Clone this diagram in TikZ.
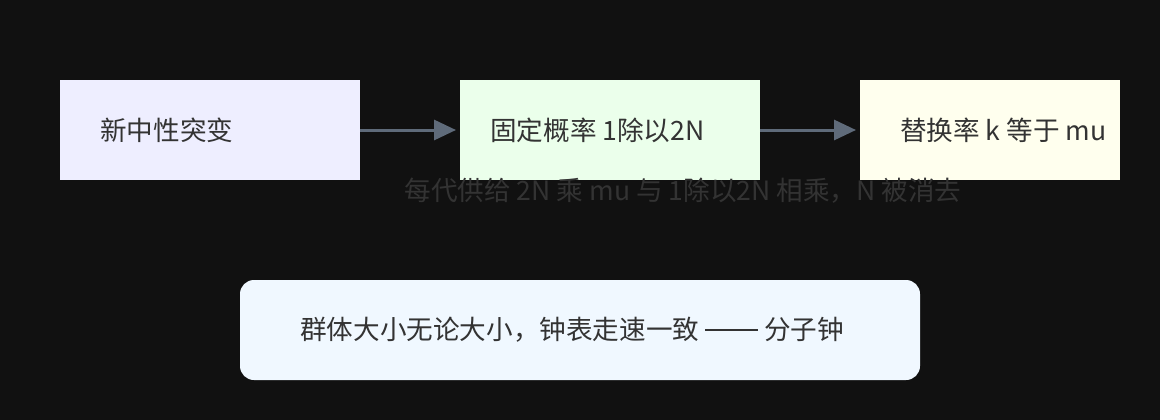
\documentclass[tikz,border=0pt]{standalone}
\usepackage{fontspec}
\setmainfont{Noto Sans CJK SC}
\usetikzlibrary{arrows.meta}
\definecolor{bg}{HTML}{111111}
\definecolor{txt}{HTML}{333333}
\definecolor{arr}{HTML}{5F6B7A}
\definecolor{fa}{HTML}{EEEEFF}
\definecolor{fb}{HTML}{EBFFEB}
\definecolor{fc}{HTML}{FFFFEE}
\definecolor{fd}{HTML}{F0F8FF}
\tikzset{
  box/.style={inner sep=0, outer sep=0, minimum height=100pt, anchor=north west},
  lbl/.style={text=txt, font=\fontsize{26.6}{30}\selectfont, anchor=west, inner sep=0},
  conn/.style={draw=arr, line width=3pt, -{Triangle[length=22pt,width=20pt]}, shorten >=4pt}
}
\begin{document}
\begin{tikzpicture}[x=1pt,y=-1pt]
\fill[bg] (0,0) rectangle (1160,420);
\useasboundingbox (0,0) rectangle (1160,420);
\node[box, fill=fa, minimum width=300pt] (a) at (60,80) {};
\node[box, fill=fb, minimum width=300pt] (b) at (460,80) {};
\node[box, fill=fc, minimum width=260pt] (c) at (860,80) {};
\node[box, fill=fd, minimum width=680pt, rounded corners=14pt] (d) at (240,280) {};
\node[lbl] (ta) at (100,130) {新中性突变};
\node[lbl] (tb) at (490,130) {固定概率 1除以2N};
\node[lbl] (tc) at (900,130) {替换率 k 等于 mu};
\node[lbl] (td) at (300,330) {群体大小无论大小，钟表走速一致 \rule[0.33em]{2em}{0.06em} 分子钟};
\node[lbl, text=txt, anchor=center] (e) at (683,191) {每代供给 2N 乘 mu 与 1除以2N 相乘，N 被消去};
\draw[conn] (a.east) -- (b.west);
\draw[conn] (b.east) -- (c.west);
\end{tikzpicture}
\end{document}
